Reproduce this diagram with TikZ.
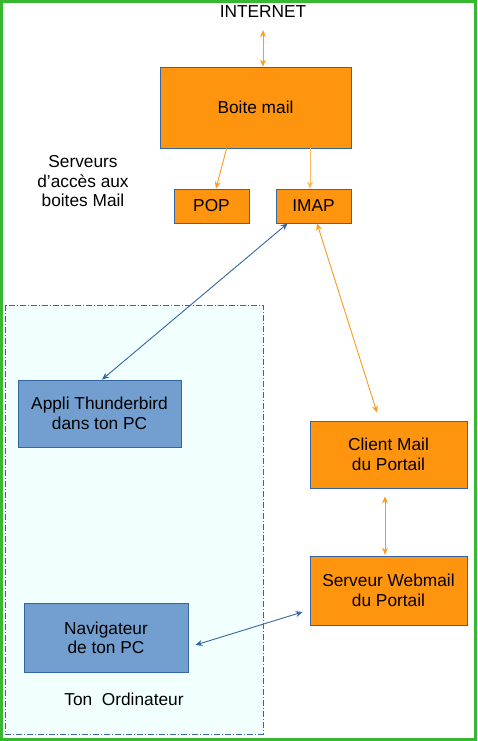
\documentclass[tikz,border=0pt]{standalone}
\usepackage{fontspec}
\setmainfont{Liberation Sans}
\usetikzlibrary{arrows.meta}
\definecolor{boxorange}{HTML}{FF950E}
\definecolor{boxblue}{HTML}{729FCF}
\definecolor{edgeblue}{HTML}{3465A4}
\definecolor{arrorange}{HTML}{FF9A1C}
\definecolor{frame}{HTML}{36B830}
\definecolor{lightcyan}{HTML}{F2FFFF}
\tikzset{
  obox/.style={draw=edgeblue, fill=boxorange, line width=0.8pt, align=center, inner sep=0pt, font=\fontsize{17.3}{19.5}\selectfont},
  bbox/.style={draw=edgeblue, fill=boxblue, line width=0.8pt, align=center, inner sep=0pt, font=\fontsize{17.3}{19.5}\selectfont},
  lbl/.style={align=center, inner sep=0pt, font=\fontsize{17.3}{19.5}\selectfont},
  oarr/.style={draw=arrorange, line width=0.9pt, {Stealth[length=7pt,width=6pt]}-{Stealth[length=7pt,width=6pt]}},
  oarrs/.style={draw=arrorange, line width=0.9pt, -{Stealth[length=7pt,width=6pt]}},
  barr/.style={draw=edgeblue, line width=0.9pt, {Stealth[length=7pt,width=6pt]}-{Stealth[length=7pt,width=6pt]}}
}
\begin{document}
\begin{tikzpicture}[x=1pt,y=-1pt]
\useasboundingbox (0,0) rectangle (477,741);
% outer frame
\draw[frame, line width=3pt] (1.5,1.5) rectangle (475.5,739);
% computer area
\draw[edgeblue, fill=lightcyan, line width=0.6pt, dash pattern=on 6pt off 2pt on 1pt off 2pt] (5,305) rectangle (263,734);

\node[lbl] (internet) at (263,12) {INTERNET};
\node[obox, minimum width=191pt, minimum height=81pt] (boite) at (255.5,107.5) {Boite mail};
\node[obox, minimum width=75pt, minimum height=34pt] (pop) at (211.5,206) {POP};
\node[obox, minimum width=75pt, minimum height=34pt] (imap) at (313.5,206) {IMAP};
\node[lbl] (serveurs) at (83,181.5) {Serveurs\\d’accès aux\\boites Mail};
\node[bbox, minimum width=163pt, minimum height=67pt] (thunder) at (99.5,413.5) {Appli Thunderbird\\dans ton PC};
\node[bbox, minimum width=164pt, minimum height=69pt] (nav) at (106,638) {Navigateur\\de ton PC};
\node[lbl] (ordi) at (124,699) {Ton\ \ Ordinateur};
\node[obox, minimum width=157pt, minimum height=67pt] (client) at (388.5,454.5) {Client Mail\\du Portail};
\node[obox, minimum width=157pt, minimum height=69pt] (webmail) at (388.5,590.5) {Serveur Webmail\\du Portail};

\coordinate (inetb) at ([yshift=-12pt]internet.south);
\draw[oarr] (inetb) -- (boite.north -| inetb);
\draw[oarrs] ([xshift=67pt]boite.south west) -- ([xshift=4.5pt]pop.north);
\draw[oarrs, draw=arrorange!70] (boite.south -| imap.north) ++(-3.5,0) coordinate (bi) -- (imap.north -| bi);
\draw[barr] ([xshift=12pt]imap.south west) -- ([xshift=2.5pt]thunder.north);
\draw[oarr] ([xshift=3.5pt]imap.south) -- ([xshift=-11.5pt,yshift=8pt]client.north);
\draw[oarr] ([xshift=-3.5pt,yshift=-8pt]client.south) -- ([xshift=-3.5pt,yshift=1pt]webmail.north);
\draw[barr] ([xshift=7pt,yshift=-7pt]nav.east) -- ([xshift=-7pt,yshift=-21.5pt]webmail.west);
\end{tikzpicture}
\end{document}
